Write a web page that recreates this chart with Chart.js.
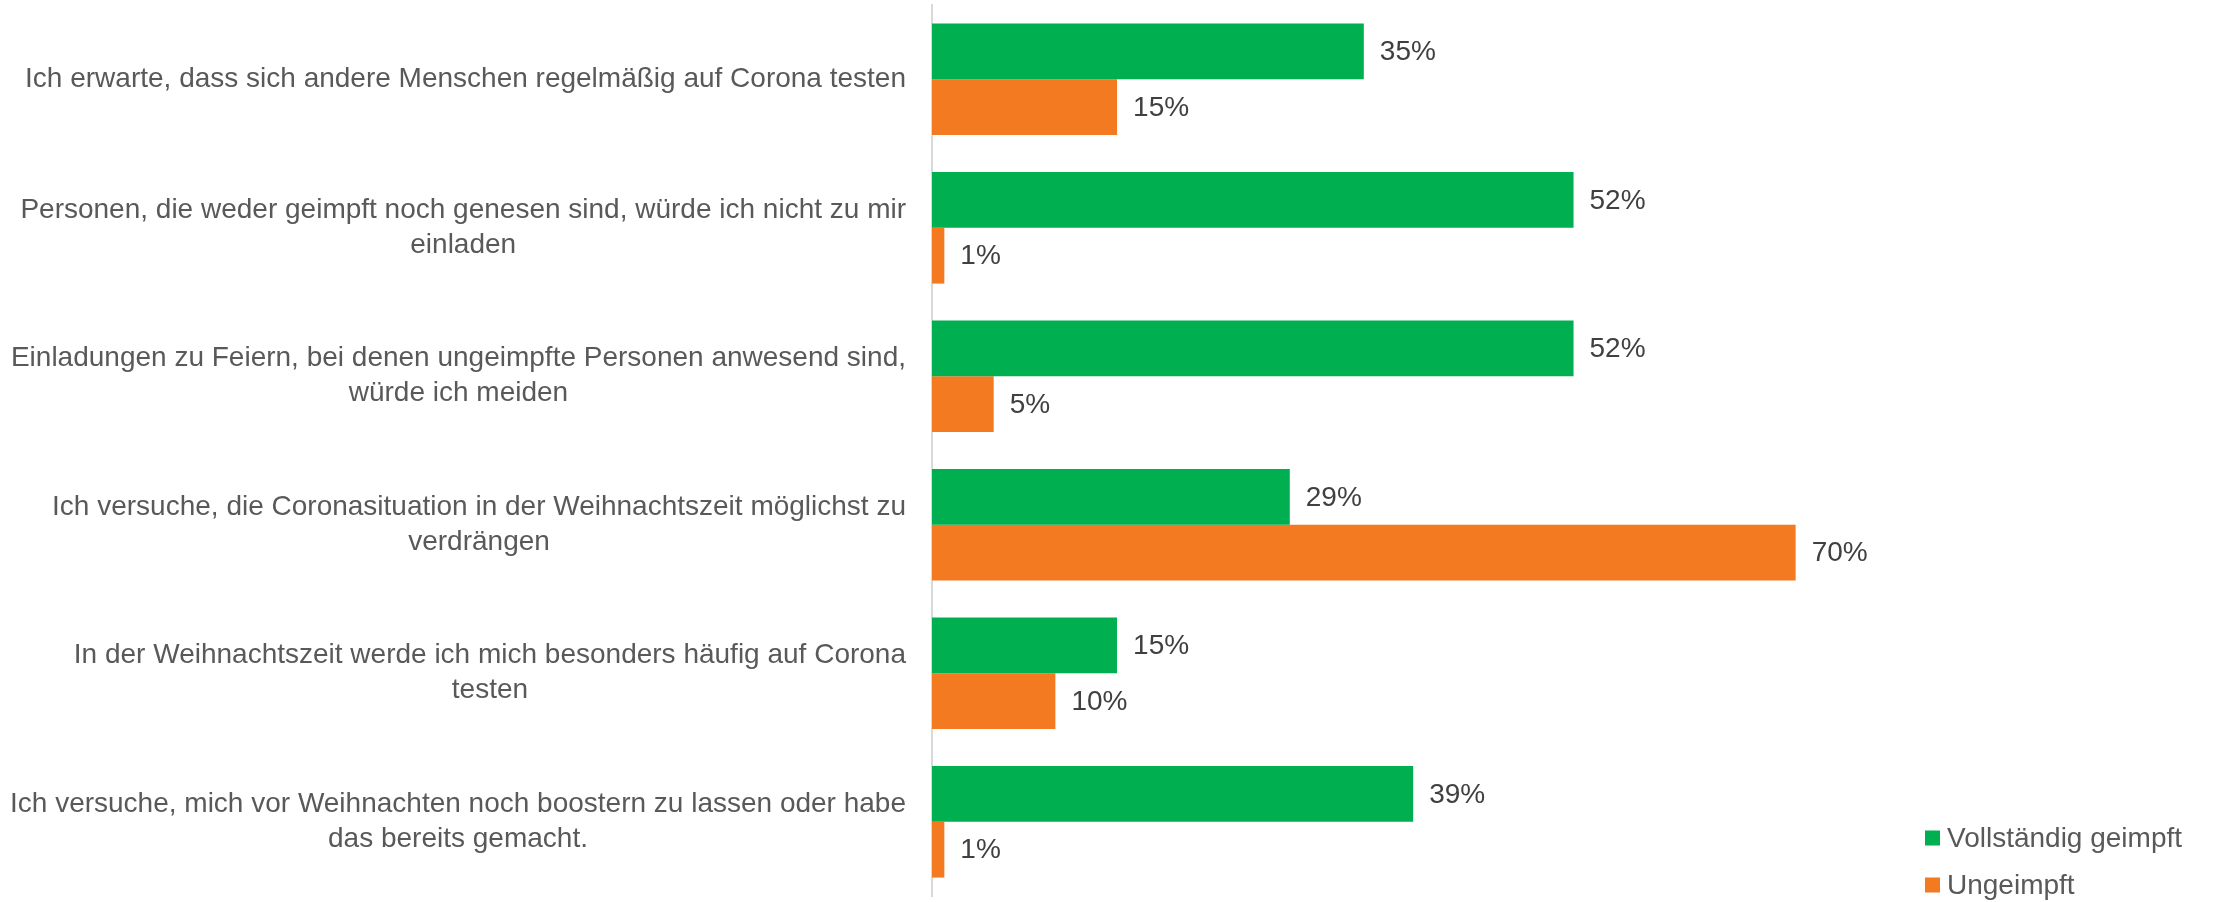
<!DOCTYPE html>
<html>
<head>
<meta charset="utf-8">
<script src="https://cdn.jsdelivr.net/npm/chart.js@4/dist/chart.umd.min.js"></script>
<style>
  html, body { margin: 0; padding: 0; background: #ffffff; }
  canvas { display: block; }
</style>
</head>
<body>
<canvas id="myChart" width="2213" height="902"></canvas>
<script>
// categories, already split into the lines used in the chart
const categories = [
    ['Ich erwarte, dass sich andere Menschen regelmäßig auf Corona testen'],
    ['Personen, die weder geimpft noch genesen sind, würde ich nicht zu mir', 'einladen'],
    ['Einladungen zu Feiern, bei denen ungeimpfte Personen anwesend sind,', 'würde ich meiden'],
    ['Ich versuche, die Coronasituation in der Weihnachtszeit möglichst zu', 'verdrängen'],
    ['In der Weihnachtszeit werde ich mich besonders häufig auf Corona', 'testen'],
    ['Ich versuche, mich vor Weihnachten noch boostern zu lassen oder habe', 'das bereits gemacht.']
];
const seriesNames = ['Vollständig geimpft', 'Ungeimpft'];
const seriesColors = ['#00b050', '#f47a22'];
const geimpft = [35, 52, 52, 29, 15, 39];
const ungeimpft = [15, 1, 5, 70, 10, 1];

const FONT = '"Liberation Sans", Arial, Helvetica, sans-serif';
const FONT_SIZE = 28;
const LINE_H = 35;

Chart.defaults.font.family = FONT;
Chart.defaults.font.size = FONT_SIZE;
Chart.defaults.color = '#595959';

// category labels: block right aligned next to the axis, lines centred in the block
const categoryLabels = {
    id: 'categoryLabels',
    afterDraw(chart) {
        const ctx = chart.ctx;
        const yScale = chart.scales.y;
        const right = chart.chartArea.left - 26;
        ctx.save();
        ctx.font = FONT_SIZE + 'px ' + FONT;
        ctx.fillStyle = '#595959';
        ctx.textAlign = 'center';
        ctx.textBaseline = 'middle';
        chart.data.labels.forEach((lines, i) => {
            const w = Math.max(...lines.map(l => ctx.measureText(l).width));
            const cx = right - w / 2;
            const cy = yScale.getPixelForValue(i);
            lines.forEach((line, j) => {
                ctx.fillText(line, cx, cy + (j - (lines.length - 1) / 2) * LINE_H);
            });
        });
        ctx.restore();
    }
};

// value labels at the end of every bar
const valueLabels = {
    id: 'valueLabels',
    afterDatasetsDraw(chart) {
        const ctx = chart.ctx;
        ctx.save();
        ctx.font = FONT_SIZE + 'px ' + FONT;
        ctx.fillStyle = '#404040';
        ctx.textAlign = 'left';
        ctx.textBaseline = 'middle';
        chart.data.datasets.forEach((ds, di) => {
            const meta = chart.getDatasetMeta(di);
            meta.data.forEach((bar, i) => {
                ctx.fillText(ds.data[i] + '%', bar.x + 16, bar.y + 1);
            });
        });
        ctx.restore();
    }
};

// legend in the bottom right corner, like the original
const cornerLegend = {
    id: 'cornerLegend',
    afterDraw(chart) {
        const ctx = chart.ctx;
        const boxX = 1925;
        const rowY = [838, 885];
        ctx.save();
        ctx.font = FONT_SIZE + 'px ' + FONT;
        ctx.textAlign = 'left';
        ctx.textBaseline = 'middle';
        chart.data.datasets.forEach((ds, i) => {
            ctx.fillStyle = ds.backgroundColor;
            ctx.fillRect(boxX, rowY[i] - 7.5, 15, 15);
            ctx.fillStyle = '#595959';
            ctx.fillText(ds.label, boxX + 22, rowY[i] + 1);
        });
        ctx.restore();
    }
};

const data = {
    labels: categories,
    datasets: [{
        label: seriesNames[0],
        data: geimpft,
        backgroundColor: seriesColors[0],
        borderWidth: 0
    }, {
        label: seriesNames[1],
        data: ungeimpft,
        backgroundColor: seriesColors[1],
        borderWidth: 0
    }]
};

const config = {
    type: 'bar',
    data: data,
    options: {
        indexAxis: 'y',
        responsive: false,
        devicePixelRatio: 1,
        animation: false,
        events: [],
        layout: {
            padding: { top: 5, bottom: 6, left: 0, right: 294 }
        },
        datasets: {
            bar: {
                barPercentage: 1,
                categoryPercentage: 0.752
            }
        },
        scales: {
            x: {
                display: false,
                min: 0,
                max: 80
            },
            y: {
                grid: { display: false },
                border: { display: true, color: '#d9d9d9', width: 2 },
                ticks: { display: false },
                afterFit(scale) {
                    scale.width = 932;
                }
            }
        },
        plugins: {
            tooltip: { enabled: false },
            legend: { display: false }
        }
    },
    plugins: [categoryLabels, valueLabels, cornerLegend]
};

new Chart(document.getElementById('myChart'), config);
</script>
</body>
</html>
